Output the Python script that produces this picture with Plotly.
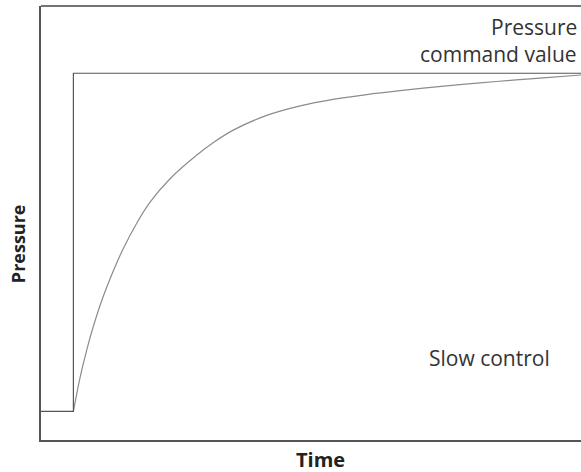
import plotly.graph_objects as go

# Time axis (s) and pressure (% of full scale)
t_end = 10.0
step_time = 0.6
base_pressure = 6.6
command_pressure = 84.5

# Actual pressure response for slow control (from the step onward)
resp_time = [0.6, 0.72, 0.85, 0.97, 1.15, 1.34, 1.52, 1.77, 2.02, 2.39, 2.88,
             3.2, 3.56, 4.18, 4.80, 5.41, 6.03, 6.65, 7.51, 8.13, 8.74, 9.36, 10.0]
resp_pressure = [6.6, 14.2, 20.9, 26.2, 33.0, 39.0, 44.0, 49.9, 54.8, 60.2, 65.6,
                 68.6, 71.4, 74.8, 77.0, 78.5, 79.6, 80.5, 81.6, 82.3, 82.9, 83.5, 84.1]

# Step command (also carries the baseline before the step)
cmd_time = [0.0, step_time, step_time, t_end]
cmd_pressure = [base_pressure, base_pressure, command_pressure, command_pressure]

fig = go.Figure()
fig.add_trace(go.Scatter(x=resp_time, y=resp_pressure, mode="lines",
                         line=dict(color="#8c8c8c", width=1.2, shape="spline", smoothing=0.8),
                         hoverinfo="skip"))
fig.add_trace(go.Scatter(x=cmd_time, y=cmd_pressure, mode="lines",
                         line=dict(color="#555555", width=1.2),
                         hoverinfo="skip"))

text_font = dict(family="Open Sans", size=21, color="#333333")
label_font = dict(family="Open Sans", size=18, color="#222222")

fig.add_annotation(x=0.997, y=0.952, xref="paper", yref="paper", xanchor="right", yanchor="middle",
                   text="Pressure", showarrow=False, font=text_font)
fig.add_annotation(x=0.997, y=0.889, xref="paper", yref="paper", xanchor="right", yanchor="middle",
                   text="command value", showarrow=False, font=text_font)
fig.add_annotation(x=8.3, y=18.9, xanchor="center", yanchor="middle",
                   text="Slow control", showarrow=False, font=text_font)

fig.add_annotation(x=0.517, y=-0.046, xref="paper", yref="paper", xanchor="center", yanchor="middle",
                   text="<b>Time</b>", showarrow=False, font=dict(family="Open Sans", size=20, color="#222222"))
fig.add_annotation(x=-0.042, y=0.452, xref="paper", yref="paper", xanchor="center", yanchor="middle",
                   text="<b>Pressure</b>", textangle=-90, showarrow=False, font=label_font)

# top frame line
fig.add_shape(type="line", xref="paper", yref="paper", x0=0, x1=1, y0=1, y1=1,
              line=dict(color="#444444", width=1.5))

fig.update_xaxes(range=[0, t_end], showgrid=False, zeroline=False, showticklabels=False,
                 ticks="", showline=True, linecolor="#555555", linewidth=1.5)
fig.update_yaxes(range=[0, 100], showgrid=False, zeroline=False, showticklabels=False,
                 ticks="", showline=True, linecolor="#555555", linewidth=1.5)

fig.update_layout(width=581, height=472, margin=dict(l=41, r=0, t=6, b=32),
                  paper_bgcolor="white", plot_bgcolor="white", showlegend=False)

fig.write_html("out.html")
